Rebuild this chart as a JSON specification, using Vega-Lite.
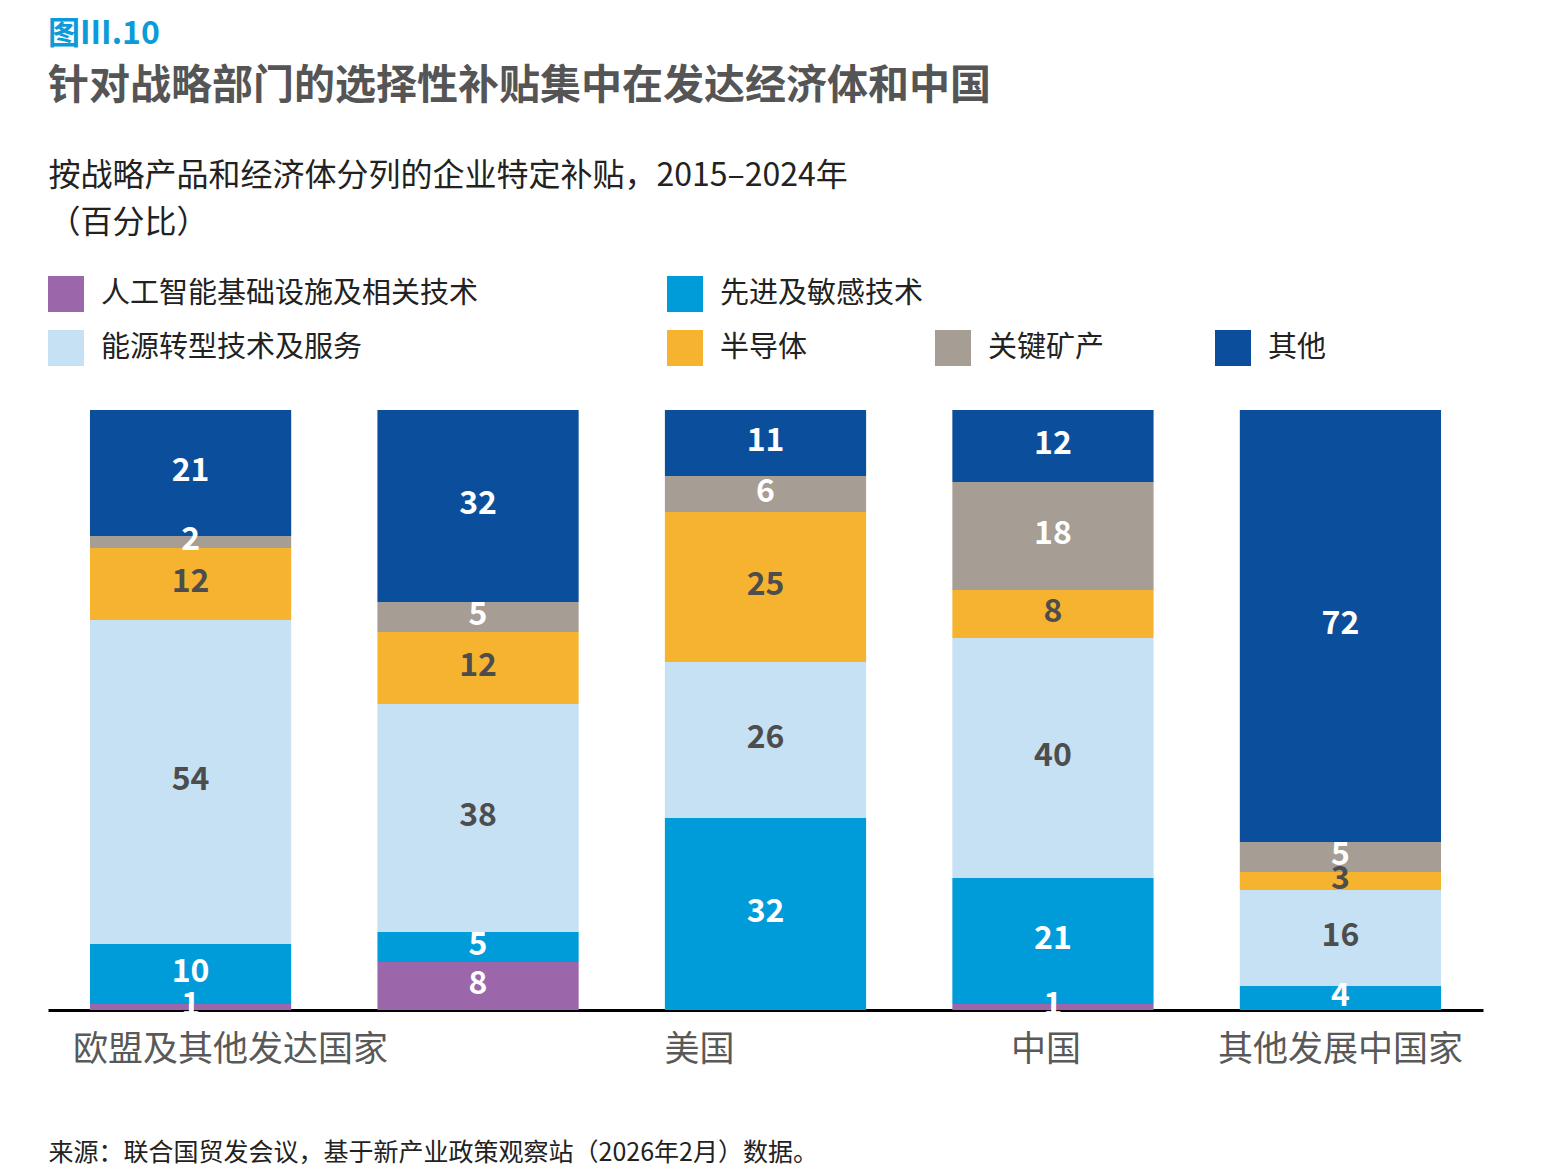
{
  "$schema": "https://vega.github.io/schema/vega-lite/v6.json",
  "width": 1435,
  "height": 600,
  "autosize": {"type": "none"},
  "padding": {"left": 48, "top": 410, "right": 63, "bottom": 165},
  "background": "#ffffff",
  "config": {
    "font": "Noto Sans CJK SC",
    "view": {"stroke": null},
    "legend": {
      "symbolType": "square",
      "symbolSize": 1296,
      "symbolStrokeWidth": 0,
      "symbolOpacity": 1,
      "labelFontSize": 29,
      "labelColor": "#222222",
      "labelOffset": 17,
      "labelLimit": 1000,
      "rowPadding": 18,
      "padding": 0,
      "title": null
    }
  },
  "title": {
    "text": "图III.10",
    "subtitle": "针对战略部门的选择性补贴集中在发达经济体和中国",
    "anchor": "start",
    "frame": "group",
    "fontSize": 32,
    "fontWeight": "bold",
    "color": "#0a9bd8",
    "subtitleFontSize": 41,
    "subtitleFontWeight": "bold",
    "subtitleColor": "#555555",
    "subtitlePadding": 16,
    "offset": 51
  },
  "data": {
    "values": [
      {"economy": "欧盟及其他发达国家", "category": "人工智能基础设施及相关技术", "value": 1},
      {"economy": "欧盟及其他发达国家", "category": "先进及敏感技术", "value": 10},
      {"economy": "欧盟及其他发达国家", "category": "能源转型技术及服务", "value": 54},
      {"economy": "欧盟及其他发达国家", "category": "半导体", "value": 12},
      {"economy": "欧盟及其他发达国家", "category": "关键矿产", "value": 2},
      {"economy": "欧盟及其他发达国家", "category": "其他", "value": 21},
      {"economy": "其他发达国家", "category": "人工智能基础设施及相关技术", "value": 8},
      {"economy": "其他发达国家", "category": "先进及敏感技术", "value": 5},
      {"economy": "其他发达国家", "category": "能源转型技术及服务", "value": 38},
      {"economy": "其他发达国家", "category": "半导体", "value": 12},
      {"economy": "其他发达国家", "category": "关键矿产", "value": 5},
      {"economy": "其他发达国家", "category": "其他", "value": 32},
      {"economy": "美国", "category": "先进及敏感技术", "value": 32},
      {"economy": "美国", "category": "能源转型技术及服务", "value": 26},
      {"economy": "美国", "category": "半导体", "value": 25},
      {"economy": "美国", "category": "关键矿产", "value": 6},
      {"economy": "美国", "category": "其他", "value": 11},
      {"economy": "中国", "category": "人工智能基础设施及相关技术", "value": 1},
      {"economy": "中国", "category": "先进及敏感技术", "value": 21},
      {"economy": "中国", "category": "能源转型技术及服务", "value": 40},
      {"economy": "中国", "category": "半导体", "value": 8},
      {"economy": "中国", "category": "关键矿产", "value": 18},
      {"economy": "中国", "category": "其他", "value": 12},
      {"economy": "其他发展中国家", "category": "先进及敏感技术", "value": 4},
      {"economy": "其他发展中国家", "category": "能源转型技术及服务", "value": 16},
      {"economy": "其他发展中国家", "category": "半导体", "value": 3},
      {"economy": "其他发展中国家", "category": "关键矿产", "value": 5},
      {"economy": "其他发展中国家", "category": "其他", "value": 72}
    ]
  },
  "transform": [
    {"calculate": "indexof(['人工智能基础设施及相关技术', '先进及敏感技术', '能源转型技术及服务', '半导体', '关键矿产', '其他'], datum.category)", "as": "rank"},
    {"stack": "value", "groupby": ["economy"], "sort": [{"field": "rank", "order": "ascending"}], "as": ["y0", "y1"]},
    {"calculate": "(datum.y0 + datum.y1) / 2", "as": "mid"}
  ],
  "encoding": {
    "x": {
      "field": "economy",
      "type": "nominal",
      "sort": ["欧盟及其他发达国家", "其他发达国家", "美国", "中国", "其他发展中国家"],
      "scale": {"paddingInner": 0.3, "paddingOuter": 0.146},
      "axis": {
        "title": "来源：联合国贸发会议，基于新产业政策观察站（2026年2月）数据。",
        "titleAnchor": "start",
        "titleAlign": "left",
        "titleX": 0,
        "titleY": 150,
        "titleBaseline": "alphabetic",
        "titleFontSize": 25,
        "titleFontWeight": "normal",
        "titleColor": "#222222",
        "domainColor": "#000000",
        "domainWidth": 3,
        "ticks": false,
        "labelFontSize": 35,
        "labelColor": "#595959",
        "labelPadding": 22,
        "labelBaseline": "top",
        "labelAngle": 0,
        "labelLimit": 1000,
        "labelExpr": "datum.value == '其他发达国家' ? '' : datum.value",
        "labelOffset": {
          "condition": [
            {"test": "datum.value == '欧盟及其他发达国家'", "value": 40},
            {"test": "datum.value == '美国'", "value": -66},
            {"test": "datum.value == '中国'", "value": -7}
          ],
          "value": 0
        },
        "zindex": 0
      }
    },
    "y": {
      "field": "y1",
      "type": "quantitative",
      "scale": {"domain": [0, 100], "nice": false},
      "axis": {
        "orient": "left",
        "title": ["按战略产品和经济体分列的企业特定补贴，2015–2024年", "（百分比）"],
        "titleAngle": 0,
        "titleAlign": "left",
        "titleX": 0,
        "titleY": -225,
        "titleBaseline": "alphabetic",
        "titleFontSize": 32,
        "titleFontWeight": "normal",
        "titleColor": "#222222",
        "titleLineHeight": 47,
        "domain": true,
        "domainOpacity": 0,
        "ticks": false,
        "labels": false,
        "grid": false
      }
    },
    "y2": {"field": "y0"}
  },
  "layer": [
    {
      "transform": [{"filter": "datum.category == '人工智能基础设施及相关技术' || datum.category == '能源转型技术及服务'"}],
      "mark": {"type": "bar"},
      "encoding": {
        "color": {
          "field": "category", "type": "nominal",
          "scale": {"domain": ["人工智能基础设施及相关技术", "能源转型技术及服务"], "range": ["#9c66ab", "#c6e0f4"]},
          "legend": {"orient": "none", "legendX": 0, "legendY": -134, "direction": "vertical"}
        }
      }
    },
    {
      "transform": [{"filter": "datum.category == '先进及敏感技术' || datum.category == '半导体'"}],
      "mark": {"type": "bar"},
      "encoding": {
        "color": {
          "field": "category", "type": "nominal",
          "scale": {"domain": ["先进及敏感技术", "半导体"], "range": ["#009cda", "#f5b330"]},
          "legend": {"orient": "none", "legendX": 619, "legendY": -134, "direction": "vertical"}
        }
      }
    },
    {
      "transform": [{"filter": "datum.category == '关键矿产'"}],
      "mark": {"type": "bar"},
      "encoding": {
        "color": {
          "field": "category", "type": "nominal",
          "scale": {"domain": ["关键矿产"], "range": ["#a69d95"]},
          "legend": {"orient": "none", "legendX": 887, "legendY": -80, "direction": "vertical"}
        }
      }
    },
    {
      "transform": [{"filter": "datum.category == '其他'"}],
      "mark": {"type": "bar"},
      "encoding": {
        "color": {
          "field": "category", "type": "nominal",
          "scale": {"domain": ["其他"], "range": ["#0b4f9c"]},
          "legend": {"orient": "none", "legendX": 1167, "legendY": -80, "direction": "vertical"}
        }
      }
    },
    {
      "mark": {"type": "text", "fontSize": 32, "fontWeight": "bold", "baseline": "middle", "dy": -2},
      "encoding": {
        "y": {"field": "mid", "type": "quantitative"},
        "y2": null,
        "text": {"field": "value", "type": "quantitative"},
        "color": {
          "condition": {"test": "datum.category == '能源转型技术及服务' || datum.category == '半导体'", "value": "#4d4d4d"},
          "value": "#ffffff"
        }
      }
    }
  ],
  "resolve": {"scale": {"color": "independent"}}
}
